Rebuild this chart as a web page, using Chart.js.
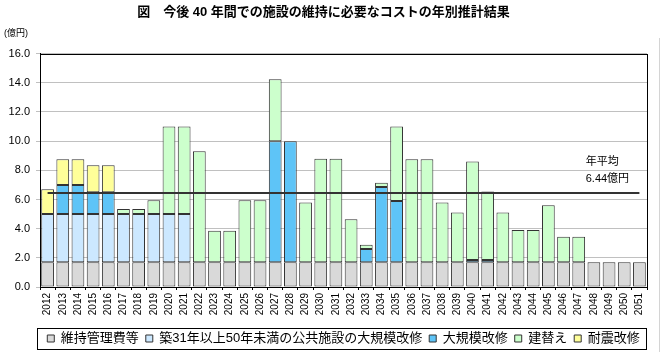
<!DOCTYPE html>
<html>
<head>
<meta charset="utf-8">
<script src="https://cdn.jsdelivr.net/npm/chart.js@4"></script>
<style>
  html, body { margin: 0; padding: 0; background: #fff; }
  #wrap { width: 665px; height: 352px; }
</style>
</head>
<body>
<div id="wrap"><canvas id="costChart" width="665" height="352"></canvas></div>
<script>
// ================= DATA =================
const years = [];
for (let y = 2012; y <= 2051; y++) years.push(String(y));

// 億円
const maintenance = [1.7, 1.7, 1.7, 1.7, 1.7, 1.7, 1.7, 1.7, 1.7, 1.7,
                     1.7, 1.7, 1.7, 1.7, 1.7, 1.7, 1.7, 1.7, 1.7, 1.7,
                     1.7, 1.7, 1.7, 1.7, 1.7, 1.7, 1.7, 1.7, 1.7, 1.7,
                     1.7, 1.7, 1.7, 1.7, 1.7, 1.7, 1.7, 1.7, 1.7, 1.7];
const renovOld    = [3.3, 3.3, 3.3, 3.3, 3.3, 3.3, 3.3, 3.3, 3.3, 3.3,
                     0, 0, 0, 0, 0, 0, 0, 0, 0, 0,
                     0, 0, 0, 0, 0, 0, 0, 0, 0, 0,
                     0, 0, 0, 0, 0, 0, 0, 0, 0, 0];
const renovation  = [0, 2.0, 2.0, 1.5, 1.5, 0, 0, 0, 0, 0,
                     0, 0, 0, 0, 0, 8.3, 8.3, 0, 0, 0,
                     0, 0.9, 5.15, 4.2, 0, 0, 0, 0, 0.15, 0.15,
                     0, 0, 0, 0, 0, 0, 0, 0, 0, 0];
const rebuild     = [0, 0, 0, 0, 0, 0.35, 0.35, 0.95, 6.0, 6.0,
                     7.6, 2.15, 2.15, 4.25, 4.25, 4.25, 0, 4.1, 7.1, 7.1,
                     2.95, 0.3, 0.3, 5.1, 7.05, 7.05, 4.1, 3.4, 6.75, 4.7,
                     3.4, 2.2, 2.2, 3.9, 1.75, 1.75, 0, 0, 0, 0];
const seismic     = [1.7, 1.75, 1.75, 1.85, 1.85, 0, 0, 0, 0, 0,
                     0, 0, 0, 0, 0, 0, 0, 0, 0, 0,
                     0, 0, 0, 0, 0, 0, 0, 0, 0, 0,
                     0, 0, 0, 0, 0, 0, 0, 0, 0, 0];
const average = 6.44;
const yTicks = [0, 2, 4, 6, 8, 10, 12, 14, 16];

const FONT = "'Liberation Sans', 'Noto Sans CJK JP', sans-serif";

// zero segments would still draw a border line, so leave them empty
const nz = arr => arr.map(v => (v ? v : null));

// ================= EXTRA DRAWING =================
const extras = {
  id: "extras",
  afterDraw(chart) {
    const { ctx, chartArea: area, scales: { x, y } } = chart;
    ctx.save();

    // plot frame
    ctx.strokeStyle = "#000";
    ctx.lineWidth = 1;
    ctx.strokeRect(Math.round(area.left) + 0.5, Math.round(area.top) + 0.5,
                   Math.round(area.width), Math.round(area.height));

    // unit label
    ctx.fillStyle = "#000";
    ctx.font = "9px " + FONT;
    ctx.textBaseline = "middle";
    ctx.textAlign = "left";
    ctx.fillText("(億円)", 4, area.top - 20);

    // average label
    ctx.font = "11px " + FONT;
    const tx = x.getPixelForValue(35) + 7;
    ctx.fillText("年平均", tx, y.getPixelForValue(8.55));
    ctx.fillText(average.toFixed(2) + "億円", tx, y.getPixelForValue(7.42));

    // legend frame
    const boxes = chart.legend.legendHitBoxes;
    if (boxes.length) {
      const l = Math.min(...boxes.map(b => b.left)) - 10;
      const r = Math.max(...boxes.map(b => b.left + b.width)) + 7;
      const t = Math.min(...boxes.map(b => b.top)) - 4;
      const b = Math.max(...boxes.map(b => b.top + b.height)) + 4;
      ctx.strokeStyle = "#000";
      ctx.strokeRect(Math.round(l) + 0.5, Math.round(t) + 0.5, Math.round(r - l), Math.round(b - t));
    }

    // page edge
    ctx.strokeStyle = "#d4d4d4";
    ctx.beginPath();
    ctx.moveTo(659.5, 38);
    ctx.lineTo(659.5, 352);
    ctx.stroke();
    ctx.restore();
  }
};

// ================= CHART =================
const barStyle = { borderColor: "#333", borderWidth: 1, borderSkipped: false,
                   barPercentage: 0.84, categoryPercentage: 1, stack: "cost", order: 1 };

const ctx = document.getElementById("costChart").getContext("2d");
new Chart(ctx, {
  type: "bar",
  data: {
    labels: years,
    datasets: [
      { label: "維持管理費等", data: nz(maintenance), backgroundColor: "#d9d9d9", ...barStyle },
      { label: "築31年以上50年未満の公共施設の大規模改修", data: nz(renovOld), backgroundColor: "#cce8ff", ...barStyle },
      { label: "大規模改修", data: nz(renovation), backgroundColor: "#5ec4f7", ...barStyle },
      { label: "建替え", data: nz(rebuild), backgroundColor: "#ccffcc", ...barStyle },
      { label: "耐震改修", data: nz(seismic), backgroundColor: "#ffff99", ...barStyle },
      { type: "line", label: "年平均", data: years.map(() => average), borderColor: "#333",
        borderWidth: 2, pointRadius: 0, stack: "avg", order: 0 }
    ]
  },
  options: {
    responsive: false,
    animation: false,
    devicePixelRatio: 1,
    layout: { padding: { left: 0, right: 18, top: 0, bottom: 0 } },
    plugins: {
      title: {
        display: true,
        text: "図　今後 40 年間での施設の維持に必要なコストの年別推計結果",
        color: "#000",
        font: { family: FONT, size: 13, weight: "bold" },
        padding: { top: 5, bottom: 33 }
      },
      legend: {
        position: "bottom",
        fullSize: false,
        maxHeight: 27,
        labels: {
          filter: item => item.datasetIndex < 5,
          color: "#000",
          boxWidth: 7,
          boxHeight: 7,
          padding: 7,
          font: { family: FONT, size: 13 }
        }
      },
      tooltip: { enabled: false }
    },
    scales: {
      x: {
        stacked: true,
        afterFit: axis => { axis.height = 38; },
        grid: { display: true, drawOnChartArea: false, offset: true, tickLength: 3, color: "#000" },
        border: { color: "#000" },
        ticks: {
          minRotation: 90, maxRotation: 90, autoSkip: false, padding: 3,
          color: "#000", font: { family: FONT, size: 10 }
        }
      },
      y: {
        stacked: true,
        min: 0, max: 16,
        afterBuildTicks: axis => { axis.ticks = yTicks.map(v => ({ value: v })); },
        afterFit: axis => { axis.width = 40; },
        grid: { color: "#c0c0c0", tickLength: 4 },
        border: { color: "#000" },
        ticks: {
          padding: 6,
          color: "#000",
          font: { family: FONT, size: 11 },
          callback: v => Number(v).toFixed(1)
        }
      }
    }
  },
  plugins: [extras]
});
</script>
</body>
</html>
